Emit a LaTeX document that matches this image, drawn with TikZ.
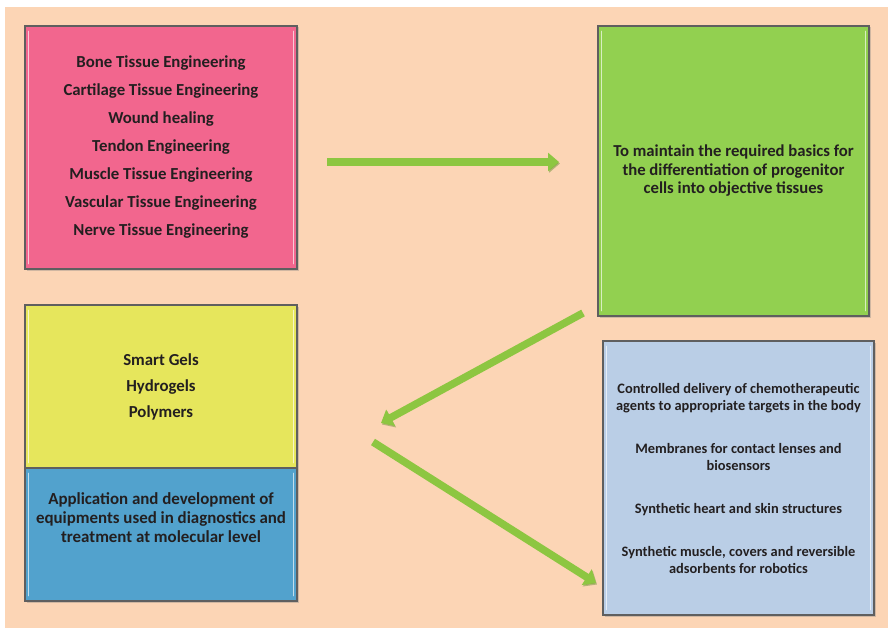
\documentclass[tikz,border=0pt]{standalone}
\usepackage{fontspec}
\setmainfont{Carlito}
\usetikzlibrary{arrows.meta,shadows,calc}
\definecolor{bgpeach}{HTML}{FCD5B5}
\definecolor{pinkbox}{HTML}{F2668E}
\definecolor{greenbox}{HTML}{92D050}
\definecolor{yellowbox}{HTML}{E6E65C}
\definecolor{bluebox}{HTML}{52A2CD}
\definecolor{greybox}{HTML}{BACEE6}
\definecolor{arrowgreen}{HTML}{8DC641}
\definecolor{arrowdark}{HTML}{5E8A28}
\definecolor{edgegrey}{HTML}{5F5F5F}
\definecolor{inktext}{HTML}{231F20}
\begin{document}
\begin{tikzpicture}[x=1pt,y=-1pt,
  panel/.style={draw=edgegrey, line width=1.2pt, inner sep=0pt, align=center,
    text=inktext, drop shadow={shadow xshift=1.5pt, shadow yshift=-1.5pt, opacity=0.35}},
  hl/.style={white, opacity=0.65, line width=1.6pt, line cap=round},
  conn/.style={draw=arrowgreen, line width=7.5pt,
    -{Triangle[length=11pt,width=18pt]},
    preaction={draw=arrowdark, opacity=0.45, transform canvas={shift={(1pt,-1.5pt)}}}}
]
\useasboundingbox (0,0) rectangle (888,628);
\fill[white] (0,0) rectangle (888,628);
\fill[bgpeach] (5,7) rectangle (888,628);

% boxes
\node[panel, fill=pinkbox, minimum width=272pt, minimum height=243pt,
  font=\bfseries\fontsize{16.8}{28}\selectfont] (pink) at (161,147.5)
  {Bone Tissue Engineering\\Cartilage Tissue Engineering\\Wound healing\\Tendon Engineering\\Muscle Tissue Engineering\\Vascular Tissue Engineering\\Nerve Tissue Engineering};

\node[panel, fill=greenbox, minimum width=271pt, minimum height=290pt,
  font=\bfseries\fontsize{16.7}{18.5}\selectfont] (green) at (733.5,171)
  {To maintain the required basics for\\the differentiation of progenitor\\cells into objective tissues};

\node[panel, fill=yellowbox, minimum width=272pt, minimum height=163pt,
  font=\bfseries\fontsize{16.8}{26}\selectfont] (yellow) at (161,386.5)
  {Smart Gels\\Hydrogels\\Polymers};

\node[panel, fill=bluebox, minimum width=272pt, minimum height=133pt] (blue) at (161,534.5) {};
\node[align=center, text=inktext, font=\bfseries\fontsize{16.9}{19}\selectfont] (bluetext) at (161,518)
  {Application and development of\\equipments used in diagnostics and\\treatment at molecular level};

\node[panel, fill=greybox, minimum width=271pt, minimum height=274pt,
  font=\bfseries\fontsize{14.4}{17}\selectfont] (grey) at (738.5,478)
  {Controlled delivery of chemotherapeutic\\agents to appropriate targets in the body\\[26pt]Membranes for contact lenses and\\biosensors\\[26pt]Synthetic heart and skin structures\\[26pt]Synthetic muscle, covers and reversible\\adsorbents for robotics};

% bevel highlights
\foreach \b in {pink,green,yellow,blue,grey}{
  \draw[hl] ($(\b.north west)+(4,6)$) -- ($(\b.south west)+(4,-6)$);
  \draw[hl] ($(\b.north east)+(-4,6)$) -- ($(\b.south east)+(-4,-6)$);
}

% connectors
\coordinate (a1s) at (327,162);
\coordinate (a1e) at (559,162);
\coordinate (a2s) at (583,313);
\coordinate (a2e) at (381,423);
\coordinate (a3s) at (373,442);
\coordinate (a3e) at (596,583);
\draw[conn] (a1s) -- (a1e);
\draw[conn] (a2s) -- (a2e);
\draw[conn] (a3s) -- (a3e);
\end{tikzpicture}
\end{document}
